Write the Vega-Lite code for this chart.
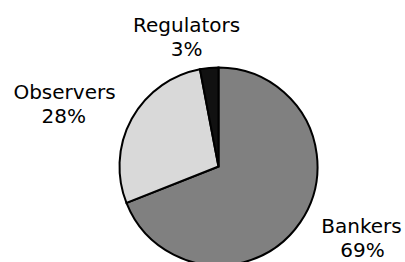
{
  "$schema": "https://vega.github.io/schema/vega-lite/v6.json",
  "width": 200,
  "height": 190,
  "padding": {"left": 118.5, "top": 71.5, "right": 86.5, "bottom": 0.5},
  "autosize": {"type": "none"},
  "background": "white",
  "config": {"view": {"stroke": null}, "text": {"font": "DejaVu Sans", "fontSize": 20, "fill": "#000000"}},
  "data": {
    "values": [
      {"category": "Bankers", "share": 0.69, "order": 1},
      {"category": "Observers", "share": 0.28, "order": 2},
      {"category": "Regulators", "share": 0.03, "order": 3}
    ]
  },
  "encoding": {
    "theta": {"field": "share", "type": "quantitative", "stack": true},
    "order": {"field": "order", "type": "quantitative"}
  },
  "layer": [
    {
      "mark": {"type": "arc", "radius": 99, "stroke": "#000000", "strokeWidth": 2},
      "encoding": {
        "color": {
          "field": "category",
          "type": "nominal",
          "scale": {"domain": ["Bankers", "Observers", "Regulators"], "range": ["#808080", "#d9d9d9", "#111111"]},
          "legend": null
        }
      }
    },
    {
      "mark": {"type": "text", "radius": 110, "align": "center", "baseline": "alphabetic", "dx": 52, "dy": 5},
      "encoding": {"text": {"condition": {"test": "datum.category === 'Bankers'", "field": "category"}, "value": ""}}
    },
    {
      "mark": {"type": "text", "radius": 110, "align": "center", "baseline": "alphabetic", "dx": 53, "dy": 28.4},
      "encoding": {"text": {"condition": {"test": "datum.category === 'Bankers'", "field": "share", "format": ".0%"}, "value": ""}}
    },
    {
      "mark": {"type": "text", "radius": 110, "align": "center", "baseline": "alphabetic", "dx": -57.6, "dy": -14.2},
      "encoding": {"text": {"condition": {"test": "datum.category === 'Observers'", "field": "category"}, "value": ""}}
    },
    {
      "mark": {"type": "text", "radius": 110, "align": "center", "baseline": "alphabetic", "dx": -58.4, "dy": 9.8},
      "encoding": {"text": {"condition": {"test": "datum.category === 'Observers'", "field": "share", "format": ".0%"}, "value": ""}}
    },
    {
      "mark": {"type": "text", "radius": 110, "align": "center", "baseline": "alphabetic", "dx": -21.5, "dy": -25.3},
      "encoding": {"text": {"condition": {"test": "datum.category === 'Regulators'", "field": "category"}, "value": ""}}
    },
    {
      "mark": {"type": "text", "radius": 110, "align": "center", "baseline": "alphabetic", "dx": -21.5, "dy": -1.3},
      "encoding": {"text": {"condition": {"test": "datum.category === 'Regulators'", "field": "share", "format": ".0%"}, "value": ""}}
    }
  ]
}
